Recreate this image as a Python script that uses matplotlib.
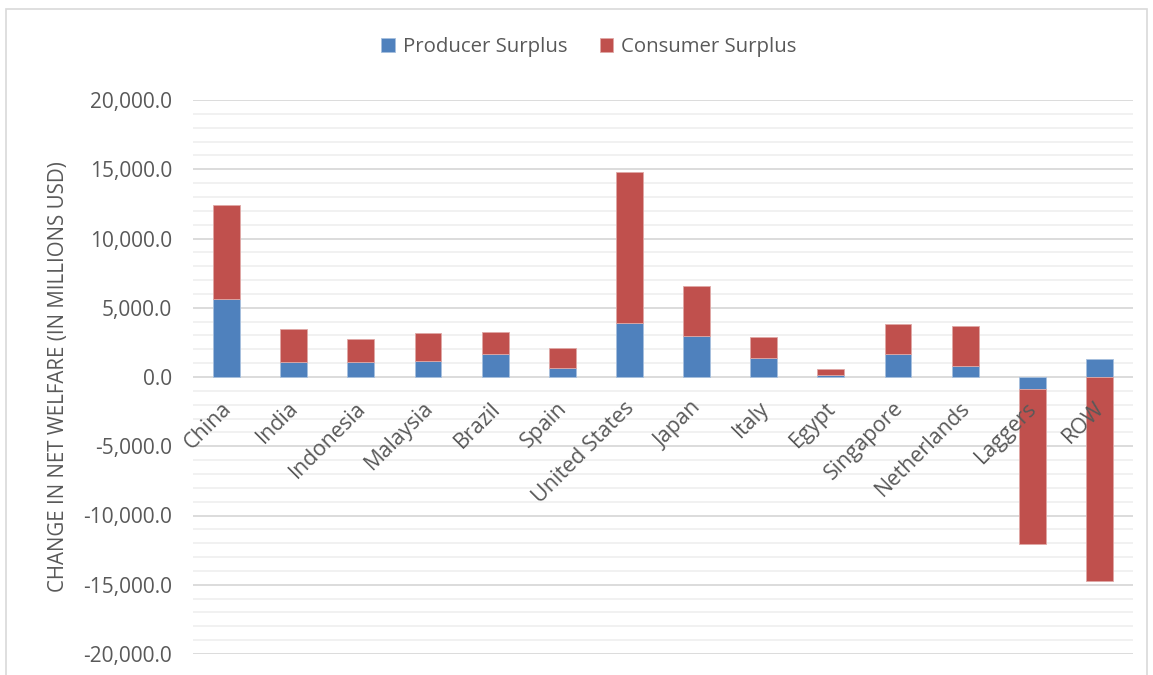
import numpy as np
import matplotlib
matplotlib.use("Agg")
import matplotlib.pyplot as plt
from matplotlib.ticker import MultipleLocator, FuncFormatter
from matplotlib.patches import Rectangle

countries = ["China", "India", "Indonesia", "Malaysia", "Brazil", "Spain",
             "United States", "Japan", "Italy", "Egypt", "Singapore",
             "Netherlands", "Laggers", "ROW"]
producer = [5600, 1100, 1050, 1150, 1650, 650, 3900, 2950, 1350, 150, 1650, 800, -900, 1300]
consumer = [6850, 2340, 1660, 2020, 1600, 1450, 10900, 3600, 1550, 400, 2170, 2900, -11150, -14750]

blue = "#4F81BD"
red = "#C0504D"
text_col = "#595959"

plt.rcParams["font.family"] = ["Open Sans", "DejaVu Sans"]

fig = plt.figure(figsize=(11.53, 6.75), dpi=100)
ax = fig.add_axes([193 / 1153, 1 - 654 / 675, 940 / 1153, 554 / 675])

# chart-area frame
fig.patches.append(Rectangle((6 / 1153, -0.05), 1141 / 1153, 1 - 9 / 675 + 0.05,
                             transform=fig.transFigure, fill=False,
                             edgecolor="#D9D9D9", linewidth=1.2))

x = np.arange(len(countries))
prod = np.array(producer, dtype=float)
cons = np.array(consumer, dtype=float)
bottom = np.where(cons >= 0, np.maximum(prod, 0), np.minimum(prod, 0))

width = 0.4
ax.bar(x, prod, width, color=blue, label="Producer Surplus", zorder=3,
       edgecolor="#A7C0DE", linewidth=0.6)
ax.bar(x, cons, width, bottom=bottom, color=red, label="Consumer Surplus", zorder=3,
       edgecolor="#DFA8A6", linewidth=0.6)

ax.set_xlim(-0.5, len(countries) - 0.5)
ax.set_ylim(-20000, 20000)
ax.yaxis.set_major_locator(MultipleLocator(5000))
ax.yaxis.set_minor_locator(MultipleLocator(1000))
ax.yaxis.set_major_formatter(FuncFormatter(lambda v, p: f"{v:,.1f}"))
ax.grid(axis="y", which="major", color="#D9D9D9", linewidth=1.3, zorder=0)
ax.grid(axis="y", which="minor", color="#F0F0F0", linewidth=1.3, zorder=0)
ax.set_axisbelow(True)
for s in ax.spines.values():
    s.set_visible(False)
ax.tick_params(axis="y", which="both", length=0, labelsize=15, labelcolor=text_col, pad=15)
ax.set_xticks([])

# category labels sit next to the zero line
for xi, name in zip(x, countries):
    ax.annotate(name, xy=(xi, 0), xytext=(-4, -15), textcoords="offset points",
                rotation=45, ha="right", va="top", fontsize=15.5, color=text_col,
                rotation_mode="anchor", zorder=4)

ax.set_ylabel("CHANGE IN NET WELFARE (IN MILLIONS USD)", fontsize=14.8,
              color=text_col, labelpad=10)

leg = fig.legend(loc="center", bbox_to_anchor=(589 / 1153, 1 - 47 / 675), ncol=2,
                 frameon=False, fontsize=14.7, handlelength=0.65, handleheight=0.7,
                 handletextpad=0.4, columnspacing=1.6)
for t in leg.get_texts():
    t.set_color(text_col)

fig.savefig("out.png", dpi=100)
